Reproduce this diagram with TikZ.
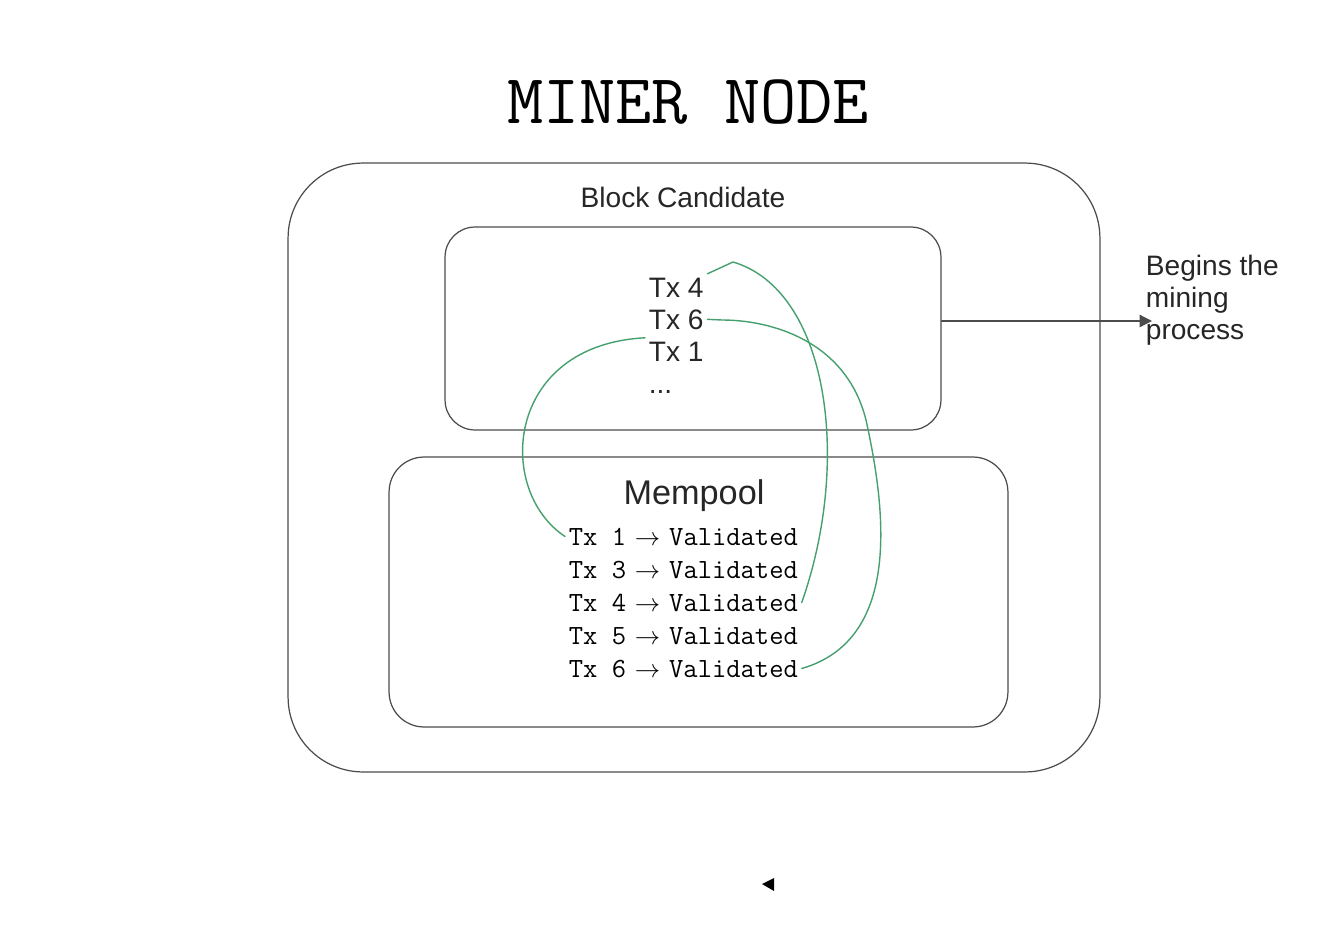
\documentclass[tikz,border=0pt]{standalone}
\usepackage{fontspec}
\newfontfamily\arialfont{Liberation Sans}
\usepackage{tikz}
\usetikzlibrary{positioning,arrows.meta}
\definecolor{pickgreen}{RGB}{70,160,110}

\begin{document}
\begin{tikzpicture}[
    x=0.02cm, y=-0.02cm,
    box/.style = {
        rectangle,
        draw=black!70,
        line width=0.7pt,
        inner sep=0pt
    },
    minerbox/.style = {box, minimum width=16.24cm, minimum height=12.18cm, rounded corners=1.5cm},
    blockbox/.style = {box, minimum width=9.92cm, minimum height=4.06cm, rounded corners=0.6cm},
    poolbox/.style  = {box, minimum width=12.38cm, minimum height=5.4cm, rounded corners=0.7cm},
    heading/.style  = {anchor=base, inner sep=2pt, text=black!85},
    txline/.style   = {anchor=base west, inner sep=2pt, text=black!85, font=\arialfont\fontsize{16}{18.4}\selectfont},
    poolline/.style = {anchor=base west, inner sep=2pt, font=\ttfamily\fontsize{15.8}{18}\selectfont},
    pick/.style     = {draw=pickgreen, line width=0.8pt},
    arrow/.style    = {-{Triangle[length=7pt,width=7pt]}, draw=black!70, line width=0.7pt},
    line cap=round, line join=round
]

\useasboundingbox (0,0) rectangle (1330,937);

% Title
\node[heading, text=black, font=\ttfamily\fontsize{40}{48}\selectfont] (title) at (688,123) {MINER NODE};

% Boxes
\node[minerbox] (miner) at (694,467.5) {};
\node[blockbox] (block) at (693,328.5) {};
\node[poolbox]  (pool)  at (698.5,592) {};

% Block candidate contents
\node[heading, font=\arialfont\fontsize{16}{18}\selectfont] (blocklabel) at (683,207) {Block Candidate};
\node[txline] (tx4) at (645,297) {Tx 4};
\node[txline] (tx6) at (645,329) {Tx 6};
\node[txline] (tx1) at (645,361) {Tx 1};
\node[txline] (txdots) at (645,393) {...};

% Mempool contents
\node[heading, font=\arialfont\fontsize{19.5}{22}\selectfont] (poollabel) at (694,504) {Mempool};
\foreach \n/\y in {1/545,3/578,4/611,5/644,6/677}
    \node[poolline] (mt\n) at (565,\y) {Tx \n\ \makebox[0.525em]{$\rightarrow$} Validated};

% Picked transactions
\coordinate (peak) at (733,262);
\draw[pick] (mt1.west) .. controls (495,490) and (505,345) .. (tx1.north west);
\draw[pick] (mt4.east) .. controls (852,460) and (828,290) .. (peak) -- (tx4.north east);
\draw[pick] (mt6.east) .. controls (900,640) and (887,515) .. (866,420)
    .. controls (846,340) and (770,320) .. (722,320) -- (tx6.east);

% Mining
\coordinate (arrowend) at (1152,321);
\draw[arrow] (block.east |- arrowend) -- (arrowend);
\node[txline, anchor=north west, align=left] (begins) at (1142,251) {Begins the\\mining\\process};

% Cursor
\fill[black] (762,884) -- (774,878) -- (774,891) -- cycle;

\end{tikzpicture}
\end{document}
